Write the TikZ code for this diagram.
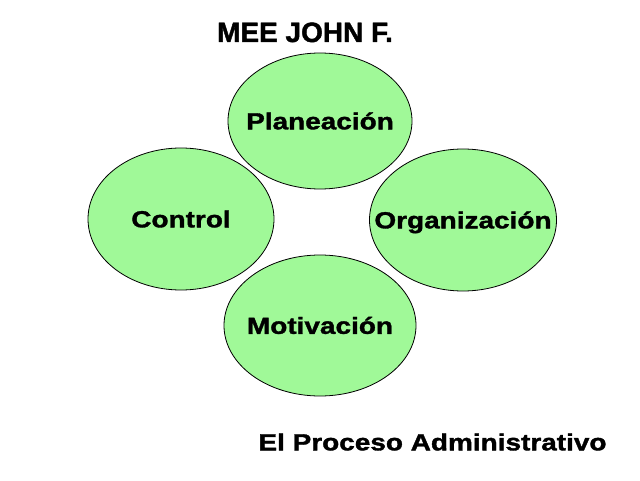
\documentclass[tikz,border=0pt]{standalone}
\usepackage{fontspec}
\setmainfont{Liberation Sans}
\newfontfamily\ancha{Liberation Sans Bold}[FakeStretch=1.2,FakeBold=1.5]
\newfontfamily\gruesa{Liberation Sans Bold}[FakeBold=1.5]
\usetikzlibrary{shapes.geometric}
\definecolor{verdefase}{RGB}{160,249,152}
\begin{document}
\begin{tikzpicture}[x=1pt,y=1pt,
    fase/.style={ellipse,draw,line width=0.8pt,fill=verdefase,inner sep=0pt},
    etq/.style={font=\ancha\fontsize{23.3}{28}\selectfont,text height=16.7pt,text depth=0pt,inner sep=0pt}]
    \useasboundingbox (0,0) rectangle (640,480);
    \node[font=\gruesa\fontsize{28}{32}\selectfont,text height=20pt,text depth=0pt,inner sep=0pt] (autor) at (305,448) {MEE JOHN F.};
    \node[fase,minimum width=184pt,minimum height=136pt] (plan) at (320,359) {};
    \node[fase,minimum width=186pt,minimum height=142pt] (ctrl) at (181,261) {};
    \node[fase,minimum width=187pt,minimum height=142pt] (org) at (463,260) {};
    \node[fase,minimum width=192pt,minimum height=141pt] (motiv) at (320,154.5) {};
    \node[etq] (tplan) at (plan) {Planeación};
    \node[etq] (tctrl) at (ctrl) {Control};
    \node[etq] (torg) at (org) {Organización};
    \node[etq] (tmotiv) at (motiv) {Motivación};
    \node[etq] (titulo) at (432.5,38) {El Proceso Administrativo};
\end{tikzpicture}
\end{document}
